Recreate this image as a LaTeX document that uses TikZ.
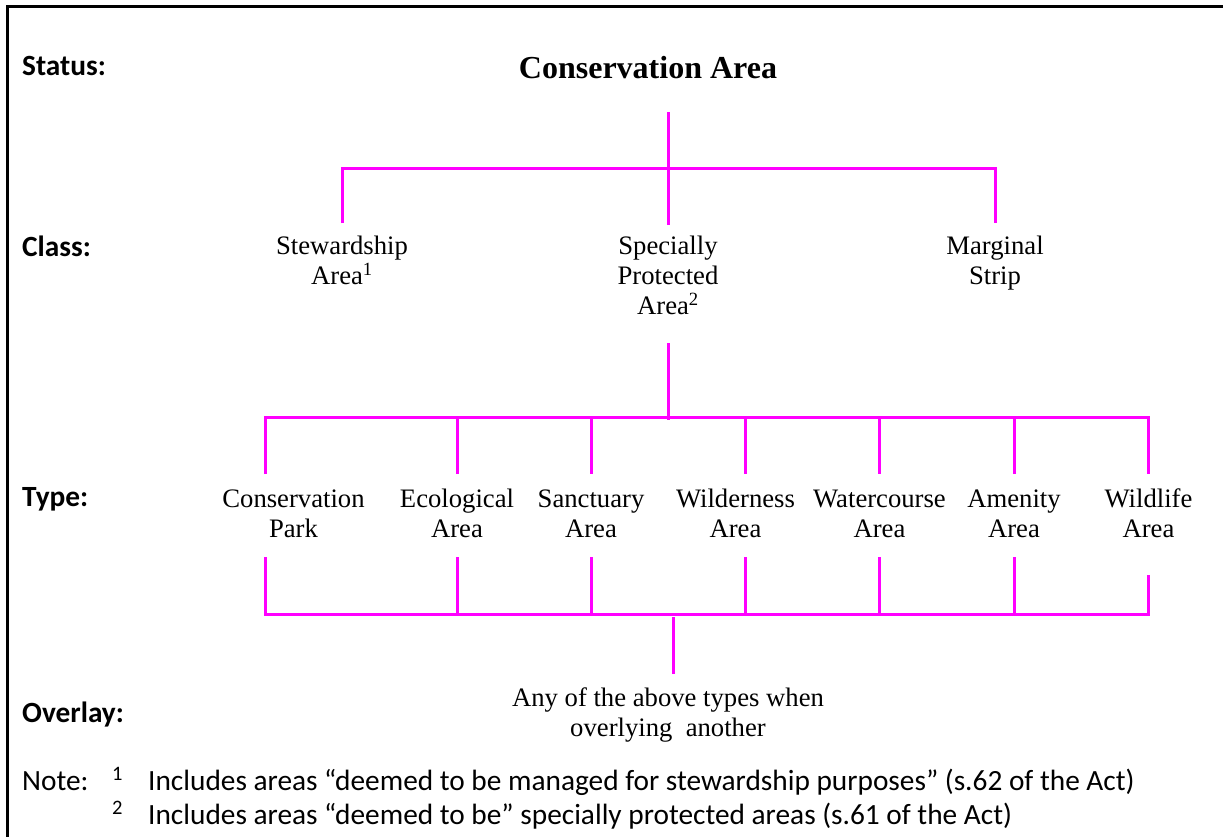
\documentclass[tikz,border=0pt]{standalone}
\usepackage{fontspec}
\setmainfont{Liberation Serif}
\newfontfamily\calfont{Carlito}
\definecolor{mag}{HTML}{FF00FF}
\newcommand\mlines[1]{\begin{tabular}[t]{@{}c@{}}#1\end{tabular}}
\begin{document}
\begin{tikzpicture}[x=1pt,y=-1pt,
  lbl/.style={font=\calfont\bfseries\fontsize{29.33}{32}\selectfont,anchor=base west,inner sep=0pt},
  notetext/.style={font=\calfont\fontsize{29.33}{32}\selectfont,anchor=base west,inner sep=0pt},
  item/.style={font=\fontsize{26.67}{30}\selectfont,anchor=base,inner sep=0pt},
  titlestyle/.style={font=\bfseries\fontsize{32}{36}\selectfont,anchor=base,inner sep=0pt},
  link/.style={draw=mag,line width=3pt},
  frame/.style={draw=black,line width=3pt}]
\useasboundingbox (0,0) rectangle (1223,836);
\draw[frame] (7.7,840) -- (7.7,6) -- (1226,6);

% row labels
\node[lbl] (status) at (22,75) {Status:};
\node[lbl] (class) at (22,256) {Class:};
\node[lbl] (type) at (22,506) {Type:};
\node[lbl] (overlay) at (22,722) {Overlay:};

% status
\node[titlestyle] (title) at (648,78) {Conservation Area};

% classes
\node[item] (stew) at (342,254) {\mlines{Stewardship\\Area\textsuperscript{1}}};
\node[item] (spa) at (668,254) {\mlines{Specially\\Protected\\Area\textsuperscript{2}}};
\node[item] (ms) at (995,254) {\mlines{Marginal\\Strip}};

% types
\node[item] (cp) at (293.5,507) {\mlines{Conservation\\Park}};
\node[item] (eco) at (457,507) {\mlines{Ecological\\Area}};
\node[item] (sanc) at (591,507) {\mlines{Sanctuary\\Area}};
\node[item] (wild) at (735.5,507) {\mlines{Wilderness\\Area}};
\node[item] (water) at (879.5,507) {\mlines{Watercourse\\Area}};
\node[item] (amen) at (1014,507) {\mlines{Amenity\\Area}};
\node[item] (wlife) at (1148.5,507) {\mlines{Wildlife\\Area}};

% overlay
\node[item] (over) at (668,706) {\mlines{Any of the above types when\\overlying\ \ another}};

% notes
\node[notetext] (note) at (22,790) {Note:};
\node[notetext] (n1) at (112,790) {\textsuperscript{1}};
\node[notetext] (t1) at (148,790) {Includes areas “deemed to be managed for stewardship purposes” (s.62 of the Act)};
\node[notetext] (n2) at (112,824) {\textsuperscript{2}};
\node[notetext] (t2) at (148,824) {Includes areas “deemed to be” specially protected areas (s.61 of the Act)};

% connector coordinates
\coordinate (topA) at (668,112);
\coordinate (busA) at (668,168);
\coordinate (spaTop) at (668,225);
\coordinate (stewTop) at (342,223);
\coordinate (msTop) at (995,223);
\coordinate (spaBot) at (668,343);
\coordinate (busB) at (668,420);
\coordinate (ovTop) at (673,617);
\coordinate (ovEnd) at (673,674);

% status -> classes
\draw[link] (topA) -- (spaTop);
\draw[link] (stewTop) -- (stew.north |- busA) -- (ms.north |- busA) -- (msTop);

% specially protected -> types
\draw[link] (spaBot) -- (busB);
\draw[link] (265,474) -- (265,417) -- (1148,417) -- (1148,474);
\foreach \xx in {457,591,745,879,1014} \draw[link] (\xx,417) -- (\xx,474);

% types -> overlay
\draw[link] (265,557) -- (265,614) -- (1148,614) -- (1148,575);
\foreach \xx in {457,591,745,879,1014} \draw[link] (\xx,557) -- (\xx,614);
\draw[link] (ovTop) -- (ovEnd);
\end{tikzpicture}
\end{document}
